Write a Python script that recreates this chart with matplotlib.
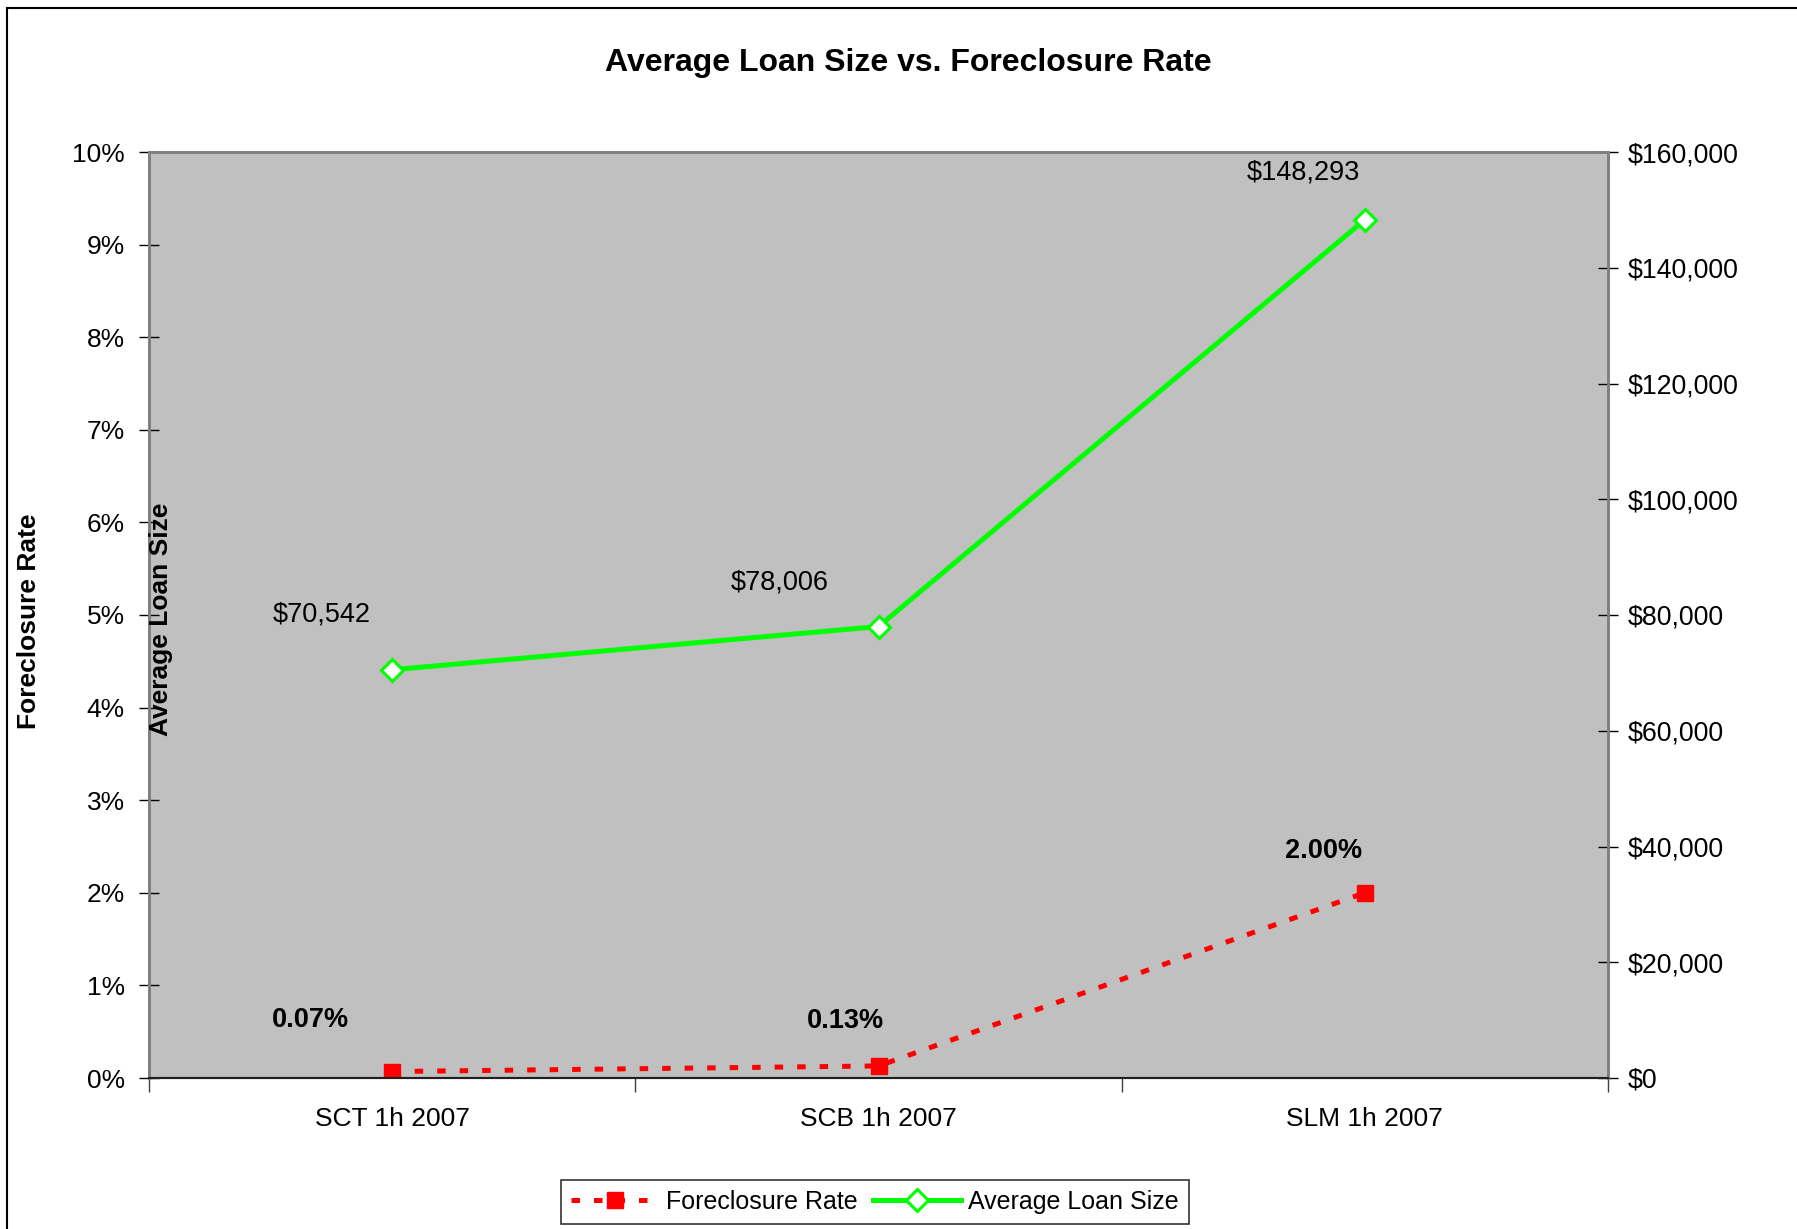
import matplotlib.pyplot as plt
import matplotlib.patches as patches
from matplotlib.ticker import FuncFormatter, MultipleLocator

plt.rcParams['font.family'] = ['Liberation Sans', 'DejaVu Sans']

# data
categories = ['SCT 1h 2007', 'SCB 1h 2007', 'SLM 1h 2007']
foreclosure_rate = [0.07, 0.13, 2.00]        # percent
avg_loan_size = [70542, 78006, 148293]       # dollars

# label offsets in pixels (layout only)
rate_offsets = [(-82, 52), (-33, 45), (-41, 42)]
loan_offsets = [(-70, 55), (-99, 44), (-61, 47)]

fig = plt.figure(figsize=(17.97, 12.29), dpi=100)
ax = fig.add_axes([149 / 1797, 1 - 1078 / 1229, (1608 - 149) / 1797, (1078 - 152) / 1229])
ax.set_facecolor('#C0C0C0')
ax2 = ax.twinx()

x = list(range(len(categories)))

# Foreclosure rate on the left axis
l1, = ax.plot(x, foreclosure_rate, color='#FF0000', linestyle=(0, (1.7, 2.8)), linewidth=3.6,
              marker='s', markersize=12, markerfacecolor='#FF0000', markeredgecolor='#FF0000',
              label='Foreclosure Rate', zorder=3)
# Average loan size on the right axis
l2, = ax2.plot(x, avg_loan_size, color='#00FF00', linewidth=3.6, marker='D', markersize=11,
               markerfacecolor='white', markeredgecolor='#00FF00', markeredgewidth=2.2,
               label='Average Loan Size', zorder=3)

for xi, v, off in zip(x, foreclosure_rate, rate_offsets):
    ax.annotate(f'{v:.2f}%', (xi, v), xytext=off, textcoords='offset pixels',
                ha='center', va='center', fontsize=19.5, fontweight='bold')
for xi, v, off in zip(x, avg_loan_size, loan_offsets):
    ax2.annotate(f'${v:,.0f}', (xi, v), xytext=off, textcoords='offset pixels',
                 ha='center', va='center', fontsize=19.5)

ax.set_xlim(-0.5, 2.5)
ax.set_ylim(0, 10)
ax2.set_ylim(0, 160000)
ax.yaxis.set_major_locator(MultipleLocator(1))
ax.yaxis.set_major_formatter(FuncFormatter(lambda v, p: f'{v:.0f}%'))
ax2.yaxis.set_major_locator(MultipleLocator(20000))
ax2.yaxis.set_major_formatter(FuncFormatter(lambda v, p: f'${v:,.0f}'))

# category ticks between categories, labels centred on categories
ax.set_xticks([-0.5, 0.5, 1.5, 2.5])
ax.set_xticklabels([])
ax.set_xticks(x, minor=True)
ax.set_xticklabels(categories, minor=True, fontsize=19)
ax.tick_params(axis='x', which='major', direction='out', length=10, width=1, color='#404040')
ax.tick_params(axis='x', which='minor', length=0, pad=21)
ax.tick_params(axis='y', direction='inout', length=15, width=1, labelsize=19, pad=10)
ax2.tick_params(axis='y', direction='inout', length=15, width=1, labelsize=19.3, pad=7)

for a in (ax, ax2):
    for s in ('top', 'left', 'right'):
        a.spines[s].set_color('#808080')
        a.spines[s].set_linewidth(2)
    a.spines['bottom'].set_color('#202020')
    a.spines['bottom'].set_linewidth(1.5)

fig.text(908 / 1797, 1 - 63 / 1229, 'Average Loan Size vs. Foreclosure Rate', ha='center', va='center',
         fontsize=23, fontweight='bold')
fig.text(29 / 1797, 1 - 621 / 1229, 'Foreclosure Rate', rotation=90, ha='center', va='center',
         fontsize=19, fontweight='bold')
fig.text(161 / 1797, 1 - 619 / 1229, 'Average Loan Size', rotation=90, ha='center', va='center',
         fontsize=19, fontweight='bold')

leg = fig.legend(handles=[l1, l2], loc='center', bbox_to_anchor=(875 / 1797, 1 - 1202 / 1229),
                 ncol=2, fontsize=18, frameon=True, fancybox=False, edgecolor='black',
                 handlelength=3.5, columnspacing=0.6, handletextpad=0.3, borderpad=0.4)
leg.get_frame().set_linewidth(1.2)

# outer chart border
fig.patches.append(patches.Rectangle((7 / 1797, -0.1), 1.2, 1 - 8 / 1229 + 0.1,
                                     transform=fig.transFigure, fill=False,
                                     edgecolor='black', linewidth=1.5, clip_on=False))

fig.savefig('out.png', dpi=100)
